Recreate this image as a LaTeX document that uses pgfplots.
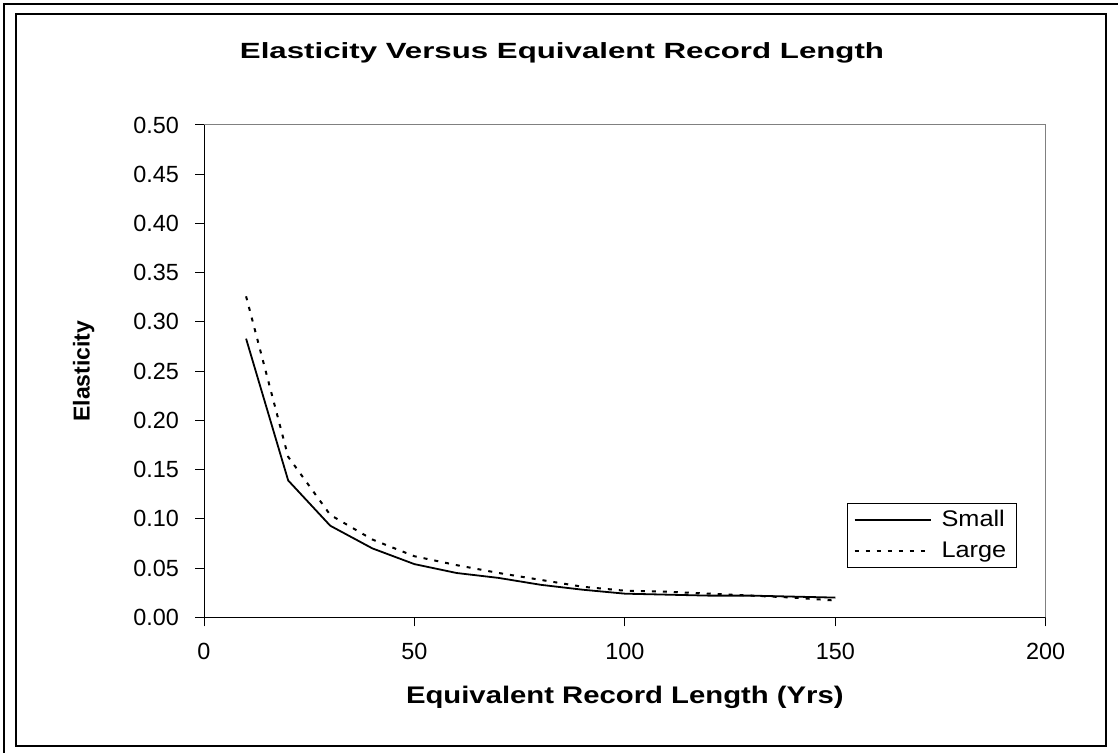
\documentclass[border=0pt]{standalone}
\usepackage{pgfplots}
\pgfplotsset{compat=1.18}
\usepackage{fontspec}
\setmainfont{Liberation Sans}
\pgfplotstableread{
x y
10 0.283
20 0.139
30 0.093
40 0.070
50 0.054
60 0.045
70 0.040
80 0.033
90 0.028
100 0.024
110 0.023
120 0.022
130 0.022
140 0.021
150 0.020
}\smalldata
\pgfplotstableread{
x y
10 0.326
20 0.163
30 0.104
40 0.079
50 0.062
60 0.053
70 0.045
80 0.038
90 0.031
100 0.027
110 0.026
120 0.024
130 0.022
140 0.020
150 0.017
}\largedata
\begin{document}
\begin{tikzpicture}[x=0.5pt,y=0.5pt]
\path[use as bounding box] (0,0) rectangle (1118,753);
\draw[line width=1.1pt] (4,0) -- (4,749) -- (1118,749);
\draw[line width=0.6pt] (16,7) rectangle (1106,739);
\node[font=\bfseries\fontsize{11}{13}\selectfont, anchor=base] at (562,694) {\scalebox{1.42}[1]{Elasticity Versus Equivalent Record Length}};
\coordinate (O) at (204,135.7);
\begin{axis}[
  at={(O)}, anchor=south west,
  scale only axis, width=420.85pt, height=246.15pt,
  xmin=0, xmax=200, ymin=0, ymax=0.5,
  xtick={0,50,100,150,200},
  ytick={0,0.05,0.10,0.15,0.20,0.25,0.30,0.35,0.40,0.45,0.50},
  axis line style={gray, line width=0.5pt},
  tick align=outside, major tick length=4.5pt,
  xtick pos=bottom, ytick pos=left,
  tick style={black, line width=0.5pt},
  /pgf/number format/assume math mode=true,
  ticklabel style={font=\fontsize{11.7}{13}\selectfont},
  yticklabel style={/pgf/number format/.cd, fixed, fixed zerofill, precision=2, /tikz/.cd, xshift=-4.5pt},
  xticklabel style={yshift=-5pt},
  xlabel={\scalebox{1.22}[1]{\bfseries Equivalent Record Length (Yrs)}},
  xlabel style={font=\fontsize{12}{14}\selectfont, at={(axis description cs:0.5,-0.176)}, anchor=base},
  ylabel={\bfseries Elasticity},
  ylabel style={font=\fontsize{11.5}{13}\selectfont, at={(axis description cs:-0.136,0.5)}, anchor=base},
  legend style={at={(0.764,0.232)}, anchor=north west, draw=black, line width=0.5pt,
    font=\fontsize{11.3}{13}\selectfont, inner xsep=3pt, inner ysep=1.5pt, row sep=2pt,
    /tikz/every odd column/.append style={column sep=3pt}},
  legend cell align=left,
  legend image code/.code={\draw[#1] (0pt,0pt) -- (38pt,0pt);},
]
\draw[black, line width=0.6pt] (rel axis cs:0,1) -- (rel axis cs:0,0) -- (rel axis cs:1,0);
\addplot[black, line width=0.9pt] table[x=x,y=y] {\smalldata};
\addlegendentry{\scalebox{1.12}[1]{Small}}
\addplot[black, line width=1pt, dash pattern=on 2pt off 3.5pt] table[x=x,y=y] {\largedata};
\addlegendentry{\scalebox{1.12}[1]{Large}}
\end{axis}
\end{tikzpicture}
\end{document}
